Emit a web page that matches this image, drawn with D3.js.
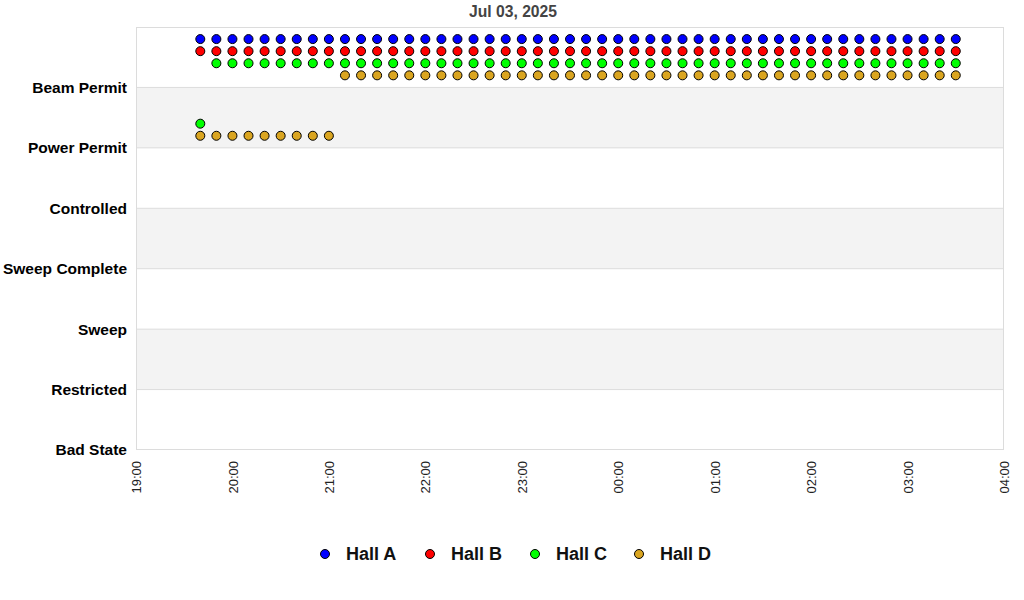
<!DOCTYPE html>
<html>
<head>
<meta charset="utf-8">
<script src="https://cdn.jsdelivr.net/npm/d3@7"></script>
<style>
  body { margin: 0; background: #fff; }
  svg { display: block; font-family: "Liberation Sans", Arial, sans-serif; }
</style>
</head>
<body>
<svg id="chart" width="1024" height="600"></svg>
<script>
// ---- Data ----
const title = "Jul 03, 2025";
const stateLabels = ["Bad State", "Restricted", "Sweep", "Sweep Complete", "Controlled", "Power Permit", "Beam Permit"];
const xTickLabels = ["19:00", "20:00", "21:00", "22:00", "23:00", "00:00", "01:00", "02:00", "03:00", "04:00"];
const seriesNames = ["Hall A", "Hall B", "Hall C", "Hall D"];
const seriesColors = ["#0000ff", "#ff0000", "#00ff00", "#daa520"];
const seriesOffsets = [0.8, 0.6, 0.4, 0.2];

// sample times
const times = [
  "19:40","19:50","20:00","20:10","20:20","20:30","20:40","20:50",
  "21:00","21:10","21:20","21:30","21:40","21:50","22:00","22:10",
  "22:20","22:30","22:40","22:50","23:00","23:10","23:20","23:30",
  "23:40","23:50","00:00","00:10","00:20","00:30","00:40","00:50",
  "01:00","01:10","01:20","01:30","01:40","01:50","02:00","02:10",
  "02:20","02:30","02:40","02:50","03:00","03:10","03:20","03:30"
];
// state index per sample (6 = Beam Permit, 5 = Power Permit)
const hallA = [6,6,6,6,6,6,6,6, 6,6,6,6,6,6,6,6, 6,6,6,6,6,6,6,6, 6,6,6,6,6,6,6,6, 6,6,6,6,6,6,6,6, 6,6,6,6,6,6,6,6];
const hallB = [6,6,6,6,6,6,6,6, 6,6,6,6,6,6,6,6, 6,6,6,6,6,6,6,6, 6,6,6,6,6,6,6,6, 6,6,6,6,6,6,6,6, 6,6,6,6,6,6,6,6];
const hallC = [5,6,6,6,6,6,6,6, 6,6,6,6,6,6,6,6, 6,6,6,6,6,6,6,6, 6,6,6,6,6,6,6,6, 6,6,6,6,6,6,6,6, 6,6,6,6,6,6,6,6];
const hallD = [5,5,5,5,5,5,5,5, 5,6,6,6,6,6,6,6, 6,6,6,6,6,6,6,6, 6,6,6,6,6,6,6,6, 6,6,6,6,6,6,6,6, 6,6,6,6,6,6,6,6];
const seriesValues = [hallA, hallB, hallC, hallD];

// ---- Layout ----
const svg = d3.select("#chart");
const margin = { left: 136, right: 20, top: 27, bottom: 150 };
const W = 1024, H = 600;
const plotW = W - margin.left - margin.right;
const plotH = H - margin.top - margin.bottom;

function toDate(s) {
  const [h, m] = s.split(":").map(Number);
  const day = h >= 12 ? 3 : 4;
  return new Date(2025, 6, day, h, m);
}

const x = d3.scaleTime()
  .domain([toDate("19:00"), toDate("04:00")])
  .range([margin.left, margin.left + plotW]);
const y = d3.scaleLinear()
  .domain([0, 7])
  .range([margin.top + plotH, margin.top]);

// bands
const bands = d3.range(7);
svg.append("g").selectAll("rect").data(bands).enter().append("rect")
  .attr("x", margin.left)
  .attr("width", plotW)
  .attr("y", d => y(d + 1))
  .attr("height", d => y(d) - y(d + 1))
  .attr("fill", d => (d % 2 === 1) ? "#f3f3f3" : "#ffffff");

// gridlines
svg.append("g").selectAll("line").data(d3.range(1, 7)).enter().append("line")
  .attr("x1", margin.left).attr("x2", margin.left + plotW)
  .attr("y1", d => y(d)).attr("y2", d => y(d))
  .attr("stroke", "#dcdcdc").attr("stroke-width", 1);

// border
svg.append("rect")
  .attr("x", margin.left + 0.5).attr("y", margin.top + 0.5)
  .attr("width", plotW - 1).attr("height", plotH - 1)
  .attr("fill", "none").attr("stroke", "#dcdcdc");

// title
svg.append("text")
  .attr("x", 513).attr("y", 17)
  .attr("text-anchor", "middle")
  .attr("font-size", 15.7).attr("font-weight", "bold")
  .attr("fill", "#444")
  .text(title);

// y axis labels
const yAxis = d3.axisLeft(y)
  .tickValues(d3.range(0, 7))
  .tickFormat(d => stateLabels[d])
  .tickSize(0).tickPadding(9);
const gy = svg.append("g").attr("transform", `translate(${margin.left},0)`).call(yAxis);
gy.select(".domain").remove();
gy.selectAll("text")
  .attr("font-family", "'Liberation Sans', Arial, sans-serif")
  .attr("font-size", 15.5).attr("font-weight", "bold").attr("fill", "#000");

// x axis
const xTicks = xTickLabels.map(toDate);
const xAxis = d3.axisBottom(x)
  .tickValues(xTicks)
  .tickFormat((d, i) => xTickLabels[i])
  .tickSize(0);
const gx = svg.append("g").attr("transform", `translate(0,${margin.top + plotH})`).call(xAxis);
gx.select(".domain").remove();
gx.selectAll("text")
  .attr("font-family", "'Liberation Sans', Arial, sans-serif")
  .attr("font-size", 13).attr("fill", "#222")
  .attr("transform", "rotate(-90)")
  .attr("text-anchor", "end")
  .attr("dy", "0.35em")
  .attr("x", -11).attr("y", 0);

// points
seriesValues.forEach((vals, si) => {
  svg.append("g").selectAll("circle").data(vals).enter().append("circle")
    .attr("cx", (d, i) => x(toDate(times[i])))
    .attr("cy", d => y(d + seriesOffsets[si]))
    .attr("r", 4.5)
    .attr("fill", seriesColors[si])
    .attr("stroke", "#000").attr("stroke-width", 1);
});

// legend
const legendX = [325, 430, 535, 639];
const lg = svg.append("g");
seriesNames.forEach((name, i) => {
  lg.append("circle")
    .attr("cx", legendX[i]).attr("cy", 554).attr("r", 4.5)
    .attr("fill", seriesColors[i]).attr("stroke", "#000");
  lg.append("text")
    .attr("x", legendX[i] + 21).attr("y", 554)
    .attr("dy", "0.36em")
    .attr("font-size", 18).attr("font-weight", "bold").attr("fill", "#111")
    .text(name);
});
</script>
</body>
</html>
